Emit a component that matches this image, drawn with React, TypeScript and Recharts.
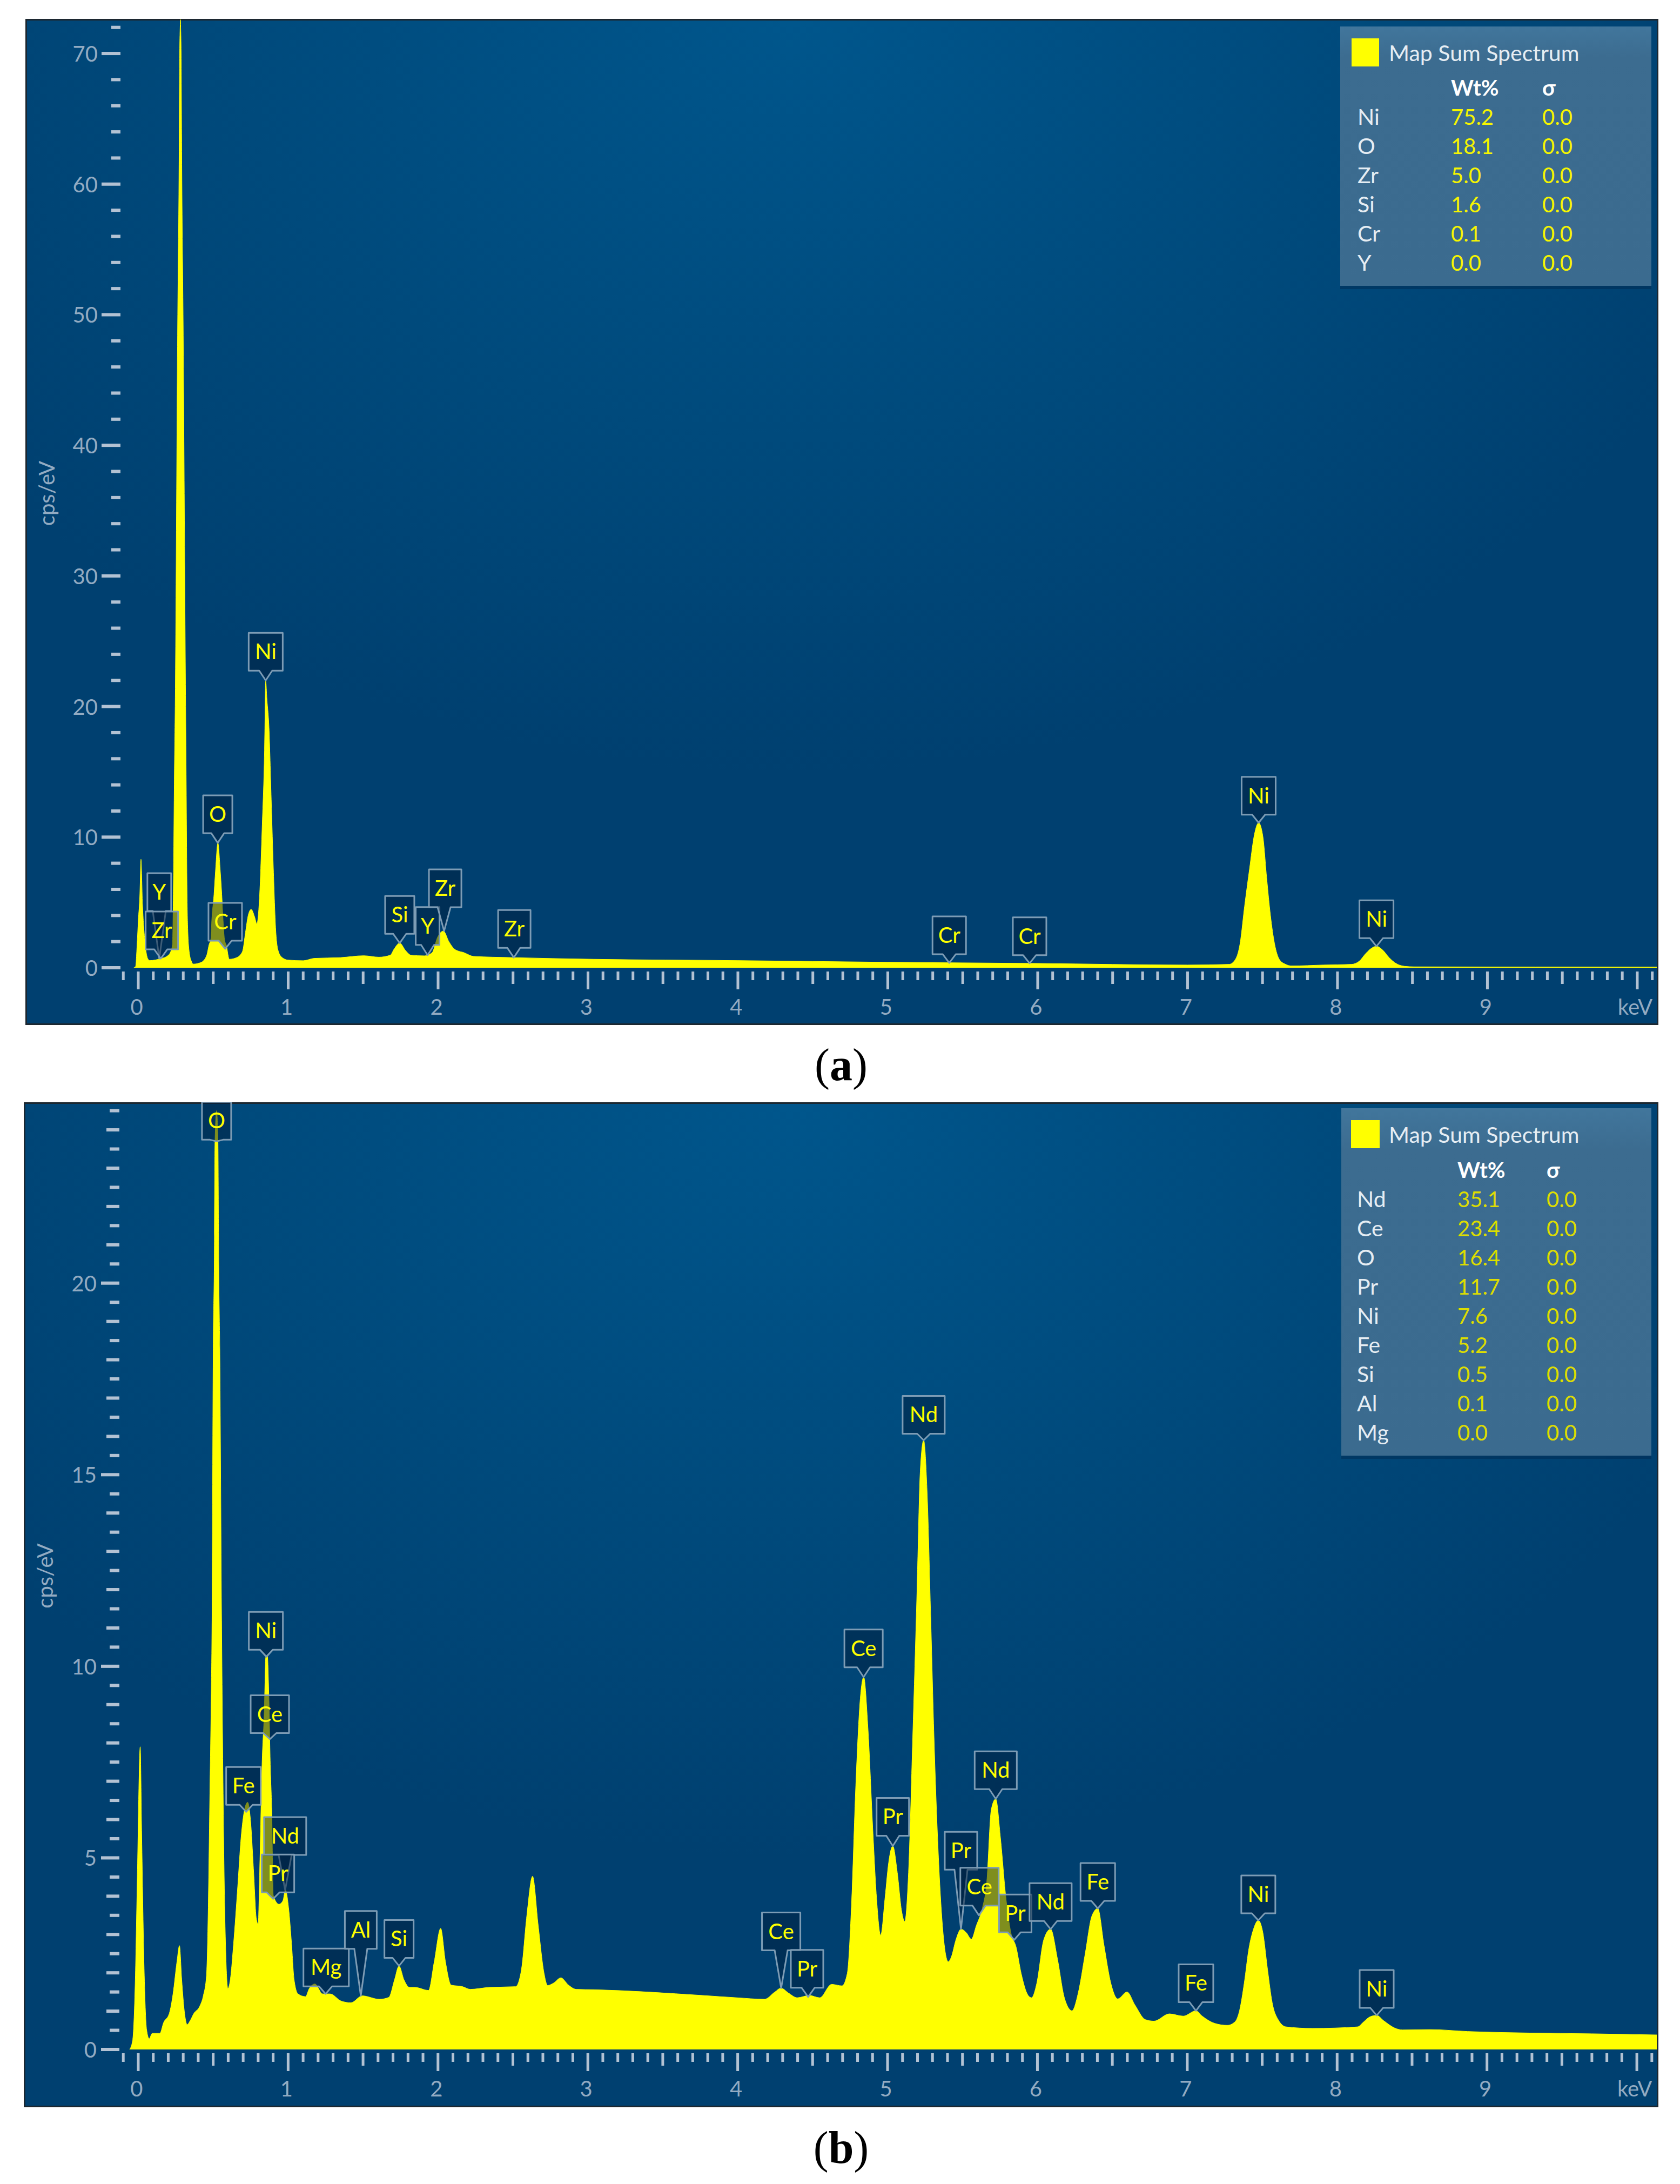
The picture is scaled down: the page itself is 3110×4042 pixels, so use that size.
import React from "react";
import { AreaChart, Area, XAxis, YAxis, ReferenceDot } from "recharts";

// spectrum (a)
const kevA = [-0.03,-0.018,-0.008,0,0.01,0.018,0.028,0.043,0.063,0.076,0.15,0.19,0.215,0.228,0.235,0.24,0.246,0.263,0.271,0.276,0.279,0.281,0.283,0.286,0.291,0.299,0.316,0.32,0.324,0.33,0.34,0.354,0.367,0.417,0.455,0.473,0.484,0.49,0.505,0.515,0.531,0.547,0.557,0.566,0.575,0.59,0.6,0.607,0.657,0.695,0.715,0.733,0.753,0.776,0.791,0.809,0.827,0.842,0.85,0.858,0.872,0.887,0.902,0.918,0.935,0.96,0.998,1.1,1.175,1.35,1.504,1.605,1.681,1.706,1.744,1.782,1.82,1.909,1.96,1.997,2.035,2.073,2.11,2.174,2.237,2.49,3.04,4,5,6,7,7.277,7.319,7.35,7.38,7.413,7.444,7.474,7.503,7.528,7.553,7.58,7.612,7.654,7.695,7.905,8.093,8.145,8.187,8.218,8.26,8.302,8.344,8.386,8.448,8.511,10.13];
const cpsA = [0,0.1,1.8,3.6,5.5,8.3,4.9,2.2,0.7,0.55,0.7,0.87,1.2,1.8,7.3,14,20,50,60,70,72,72.6,72,70,60,50,20,14,7.3,3,1.2,0.5,0.28,0.4,0.9,1.8,2.2,3.6,5.6,7.4,9.56,7.4,5.6,3.6,2.2,1.6,0.9,0.65,0.78,1.24,2.7,4,4.47,3.9,3.36,5.5,11,16.6,22,20.6,18.4,12.9,7.3,2.7,1.24,0.78,0.59,0.54,0.72,0.78,0.92,0.81,0.96,1.42,1.89,1.33,0.96,0.91,1.15,2.35,2.81,1.98,1.42,1.15,0.87,0.78,0.65,0.55,0.42,0.33,0.21,0.26,0.64,1.85,4.7,7.55,10.1,11.1,10,6.84,4,1.85,0.64,0.26,0.14,0.21,0.26,0.5,1.07,1.42,1.64,1.35,0.78,0.36,0.11,0.07,0.05];

// spectrum (b)
const kevB = [-0.058,-0.038,-0.02,-0.008,0.013,0.023,0.038,0.056,0.073,0.093,0.144,0.169,0.207,0.232,0.258,0.275,0.29,0.308,0.326,0.346,0.371,0.409,0.434,0.455,0.467,0.477,0.487,0.492,0.5,0.507,0.512,0.5225,0.532,0.537,0.544,0.556,0.56,0.573,0.586,0.598,0.614,0.636,0.662,0.687,0.712,0.73,0.75,0.77,0.788,0.8,0.81,0.826,0.841,0.851,0.861,0.871,0.881,0.891,0.901,0.939,0.965,0.982,1.003,1.023,1.04,1.066,1.116,1.141,1.179,1.23,1.28,1.356,1.419,1.495,1.609,1.672,1.71,1.74,1.773,1.81,1.848,1.937,1.975,2.018,2.05,2.088,2.164,2.215,2.341,2.518,2.556,2.593,2.631,2.669,2.707,2.732,2.77,2.82,2.871,2.922,3.043,3.765,3.995,4.179,4.248,4.289,4.34,4.397,4.478,4.547,4.627,4.696,4.731,4.759,4.788,4.818,4.841,4.869,4.903,4.926,4.954,4.984,5.007,5.035,5.065,5.094,5.115,5.14,5.168,5.196,5.218,5.241,5.265,5.288,5.31,5.34,5.375,5.405,5.426,5.456,5.49,5.525,5.559,5.593,5.632,5.662,5.692,5.722,5.754,5.789,5.823,5.858,5.892,5.938,5.961,5.996,6.042,6.088,6.134,6.18,6.231,6.272,6.318,6.364,6.403,6.444,6.49,6.536,6.598,6.651,6.72,6.778,6.881,6.973,7.058,7.1,7.184,7.267,7.318,7.349,7.38,7.411,7.442,7.474,7.505,7.536,7.567,7.608,7.66,7.836,8.136,8.177,8.218,8.264,8.311,8.384,8.436,8.622,8.87,9.284,9.698,10.133];
const cpsB = [0,0.23,1.82,4.16,7.9,5.57,2.29,0.51,0.28,0.42,0.42,0.7,0.94,1.45,2.29,2.71,1.82,0.98,0.65,0.75,0.94,1.12,1.4,1.92,3.7,6.5,9.3,11.2,18.3,20.5,23.7,24.5,23.7,20.5,18.3,11.2,9.3,4.63,2.29,1.59,1.82,2.76,4.16,5.57,6.31,6.45,5.94,4.63,3.41,3.27,4.63,7.44,8.84,10.24,10.3,9.3,7.44,6.22,4.02,3.79,3.88,4.16,3.7,2.76,1.82,1.45,1.38,1.59,1.71,1.45,1.45,1.26,1.22,1.4,1.31,1.36,1.82,2.18,1.82,1.62,1.62,1.54,2.29,3.16,2.29,1.68,1.64,1.57,1.62,1.64,2.06,3.5,4.52,3.23,2.01,1.67,1.73,1.87,1.68,1.57,1.56,1.41,1.35,1.31,1.5,1.6,1.47,1.35,1.41,1.35,1.7,1.66,1.98,3.74,6.89,9.16,9.72,8.4,5.63,3.99,2.98,3.99,4.87,5.31,4.62,3.61,3.34,4.62,8.15,11.9,15.08,15.9,14.45,11.3,8.15,5,2.86,2.29,2.42,2.86,3.14,3.05,2.88,3.24,3.68,4.37,6.26,6.54,5.5,3.99,3.05,2.67,1.98,1.41,1.35,1.73,2.86,3.14,2.36,1.35,1.01,1.47,2.48,3.49,3.68,2.73,1.73,1.32,1.5,1.16,0.78,0.74,0.93,0.87,1.01,0.87,0.68,0.63,0.72,1.02,1.73,2.63,3.14,3.37,3.04,2.08,1.22,0.77,0.59,0.55,0.59,0.72,0.85,0.89,0.75,0.56,0.51,0.52,0.47,0.43,0.41,0.38];

// tick values and the labels shown on them
const xTicks = [-0.1,0,0.1,0.2,0.3,0.4,0.5,0.6,0.7,0.8,0.9,1,1.1,1.2,1.3,1.4,1.5,1.6,1.7,1.8,1.9,2,2.1,2.2,2.3,2.4,2.5,2.6,2.7,2.8,2.9,3,3.1,3.2,3.3,3.4,3.5,3.6,3.7,3.8,3.9,4,4.1,4.2,4.3,4.4,4.5,4.6,4.7,4.8,4.9,5,5.1,5.2,5.3,5.4,5.5,5.6,5.7,5.8,5.9,6,6.1,6.2,6.3,6.4,6.5,6.6,6.7,6.8,6.9,7,7.1,7.2,7.3,7.4,7.5,7.6,7.7,7.8,7.9,8,8.1,8.2,8.3,8.4,8.5,8.6,8.7,8.8,8.9,9,9.1,9.2,9.3,9.4,9.5,9.6,9.7,9.8,9.9,10,10.1];
const xLabels = ["0","1","2","3","4","5","6","7","8","9","keV"];
const yTicksA = [0,2,4,6,8,10,12,14,16,18,20,22,24,26,28,30,32,34,36,38,40,42,44,46,48,50,52,54,56,58,60,62,64,66,68,70,72];
const yTicksB = [0,0.5,1,1.5,2,2.5,3,3.5,4,4.5,5,5.5,6,6.5,7,7.5,8,8.5,9,9.5,10,10.5,11,11.5,12,12.5,13,13.5,14,14.5,15,15.5,16,16.5,17,17.5,18,18.5,19,19.5,20,20.5,21,21.5,22,22.5,23,23.5,24,24.5];

// peak labels: element, where the pointer lands
const peaksA = ["Y","Zr","O","Cr","Ni","Si","Y","Zr","Zr","Cr","Cr","Ni","Ni"];
const peakKevA = [0.14,0.15,0.53,0.58,0.85,1.744,1.93,2.04,2.505,5.41,5.946,7.474,8.26];
const peakCpsA = [0.7,0.7,9.56,1.45,22,1.89,0.96,2.81,0.78,0.37,0.34,11.1,1.64];
const peaksB = ["O","Ni","Fe","Ce","Nd","Pr","Mg","Al","Si","Ce","Pr","Ce","Pr","Nd","Pr","Ce","Nd","Pr","Nd","Fe","Fe","Ni","Ni"];
const peakKevB = [0.5225,0.855,0.72,0.878,0.98,0.9,1.25,1.485,1.74,4.29,4.47,4.84,5.035,5.241,5.49,5.61,5.722,5.845,6.088,6.403,7.058,7.474,8.264];
const peakCpsB = [23.7,10.25,6.2,8.1,4.16,3.93,1.45,1.4,2.18,1.6,1.37,9.72,5.31,15.9,3.14,3.5,6.54,2.86,3.14,3.68,1.01,3.37,0.89];

// legend tables
const elementsA = ["Ni","O","Zr","Si","Cr","Y"];
const wtA = ["75.2","18.1","5.0","1.6","0.1","0.0"];
const elementsB = ["Nd","Ce","O","Pr","Ni","Fe","Si","Al","Mg"];
const wtB = ["35.1","23.4","16.4","11.7","7.6","5.2","0.5","0.1","0.0"];

// callout layout, same order as the peak lists
const tipA = [88,17,18,15,18,17,19,44,18,16,15,15,15];
const shiftA = [0,2,0,0,0,0,0,2,1,0,0,0,0];
const tipB = [3,13,13,11,65,12,14,87,15,70,17,18,19,12,110,18,18,14,15,14,16,13,14];
const shiftB = [0,-1,-5,0,0,9,1,0,0,0,-2,0,0,0,0,1,0,2,0,0,0,0,0];
const boxWidth: any = { Y: 44, Zr: 60, O: 54, Cr: 62, Ni: 63, Si: 54, Fe: 64, Ce: 71, Nd: 78, Pr: 60, Mg: 84, Al: 59 };

const FONT = "Lato";
const LABEL = "#93abc2";
const TICK = "#b3c2d3";
const YEL = "#ffff00";

const toRows = (kev: number[], cps: number[]) => kev.map((k, i) => ({ kev: k, cps: cps[i] }));

function XTick(props: any) {
  const { x, y, payload } = props;
  const tenth = Math.round(payload.value * 10);
  const major = tenth % 10 === 0;
  const half = tenth % 5 === 0;
  const len = major ? 33 : half ? 23 : 16;
  return (
    <g>
      <rect x={x - 2.5} y={y + 7} width={5} height={len} fill={TICK} />
      {major && tenth >= 0 && (
        <text x={tenth === 100 ? x - 4 : x - 3} y={y + 87} textAnchor="middle" fill={LABEL} fontSize={40} fontFamily={FONT}>
          {xLabels[tenth / 10]}
        </text>
      )}
    </g>
  );
}

function YTick(props: any) {
  const { x, y, payload, lenOf, step } = props;
  const v = payload.value;
  const len = lenOf(v);
  return (
    <g>
      <rect x={x - len} y={y - 3} width={len} height={6} fill={TICK} />
      {v % step === 0 && (
        <text x={x - 42} y={y + 15} textAnchor="end" fill={LABEL} fontSize={40} fontFamily={FONT}>
          {v}
        </text>
      )}
    </g>
  );
}

function Callout(props: any) {
  const { cx, cy, name, tip, shift } = props;
  const w = boxWidth[name];
  const h = 70;
  const bottom = cy - tip;
  const top = bottom - h;
  const left = cx + shift - w / 2;
  const right = cx + shift + w / 2;
  const d = `M${left} ${top}H${right}V${bottom}H${cx + 12}L${cx} ${cy}L${cx - 12} ${bottom}H${left}Z`;
  return (
    <g>
      <path d={d} fill="rgba(0,30,60,0.5)" stroke="#7d9cb5" strokeWidth={3} strokeLinejoin="round" />
      <text x={cx + shift} y={top + 49} textAnchor="middle" fill={YEL} fontSize={40} fontFamily={FONT}>
        {name}
      </text>
    </g>
  );
}

function Panel(props: any) {
  const { box, rows, xDomain, yDomain, yTicks, yAxisWidth, xAxisHeight, lenOf, step, names, kevs, cpss, tips, shifts } = props;
  return (
    <div
      style={{
        position: "absolute",
        left: box.left,
        top: box.top,
        width: box.width,
        height: box.height,
        background: "radial-gradient(ellipse 62% 75% at 47% 0%, #00568c 0%, #004a7c 55%, #004070 100%)",
        boxShadow: "inset 0 0 0 3px #1c2730",
      }}
    >
      <AreaChart width={box.width} height={box.height} data={rows} margin={{ top: 0, right: 3, bottom: 0, left: 0 }}>
        <XAxis
          type="number"
          dataKey="kev"
          domain={xDomain}
          ticks={xTicks}
          interval={0}
          height={xAxisHeight}
          tickSize={0}
          tickMargin={0}
          axisLine={false}
          tickLine={false}
          tick={(p: any) => <XTick {...p} />}
          allowDataOverflow
        />
        <YAxis
          type="number"
          domain={yDomain}
          ticks={yTicks}
          interval={0}
          width={yAxisWidth}
          tickSize={0}
          tickMargin={0}
          axisLine={false}
          tickLine={false}
          tick={(p: any) => <YTick {...p} lenOf={lenOf} step={step} />}
          label={{ value: "cps/eV", angle: -90, position: "insideLeft", offset: 40, fill: LABEL, fontSize: 40, fontFamily: FONT, style: { textAnchor: "middle" } }}
          allowDataOverflow
        />
        <Area type="monotoneX" dataKey="cps" stroke={YEL} strokeWidth={1} fill={YEL} fillOpacity={1} dot={false} activeDot={false} isAnimationActive={false} />
        {names.map((n: string, i: number) => (
          <ReferenceDot
            key={i}
            x={kevs[i]}
            y={cpss[i]}
            r={0}
            ifOverflow="visible"
            shape={(p: any) => <Callout {...p} name={n} tip={tips[i]} shift={shifts[i]} />}
          />
        ))}
      </AreaChart>
    </div>
  );
}

function LegendBox(props: any) {
  const { left, top, width, height, swatch, titleY, titleX, headY, wtX, sigmaX, firstRowY, elements, wt, rowX, valueColor } = props;
  return (
    <svg style={{ position: "absolute", left: 0, top: 0 }} width={3110} height={4042} pointerEvents="none">
      <defs>
        <linearGradient id={`lg${top}`} x1="0" y1="0" x2="0" y2="1">
          <stop offset="0" stopColor="#41769c" />
          <stop offset="0.12" stopColor="#3c6c90" />
          <stop offset="1" stopColor="#3b6b8f" />
        </linearGradient>
      </defs>
      <rect x={left} y={top + 6} width={width} height={height} fill="#00284d" opacity={0.45} />
      <rect x={left} y={top} width={width} height={height} fill={`url(#lg${top})`} />
      <rect x={swatch.x} y={swatch.y} width={swatch.w} height={swatch.h} fill={YEL} />
      <text x={titleX} y={titleY} fill="#e6edf3" fontSize={41} fontFamily={FONT}>Map Sum Spectrum</text>
      <text x={wtX} y={headY} fill="#ffffff" fontSize={40} fontWeight="bold" fontFamily={FONT}>Wt%</text>
      <text x={sigmaX} y={headY} fill="#ffffff" fontSize={40} fontWeight="bold" fontFamily={FONT}>σ</text>
      {elements.map((el: string, i: number) => (
        <g key={el}>
          <text x={rowX} y={firstRowY + i * 54} fill="#e6edf3" fontSize={41} fontFamily={FONT}>{el}</text>
          <text x={wtX} y={firstRowY + i * 54} fill={valueColor} fontSize={40} fontFamily={FONT}>{wt[i]}</text>
          <text x={sigmaX} y={firstRowY + i * 54} fill={valueColor} fontSize={40} fontFamily={FONT}>0.0</text>
        </g>
      ))}
    </svg>
  );
}

function Caption(props: any) {
  return (
    <svg style={{ position: "absolute", left: 0, top: 0 }} width={3110} height={4042} pointerEvents="none">
      <text x={props.x} y={props.y} textAnchor="middle" fontSize={84} fontFamily="Liberation Serif" fill="#000">
        (<tspan fontWeight="bold">{props.letter}</tspan>)
      </text>
    </svg>
  );
}

export default function App() {
  return (
    <div style={{ position: "absolute", left: 0, top: 0, width: 3110, height: 4042, background: "#fff", overflow: "hidden" }}>
      <Panel
        box={{ left: 47, top: 35, width: 3023, height: 1862 }}
        rows={toRows(kevA, cpsA)}
        xDomain={[-0.1189, 10.13]}
        yDomain={[0, 72.65]}
        yTicks={yTicksA}
        yAxisWidth={176}
        xAxisHeight={106}
        lenOf={(v: number) => (v % 10 === 0 ? 35 : 17)}
        step={10}
        names={peaksA}
        kevs={peakKevA}
        cpss={peakCpsA}
        tips={tipA}
        shifts={shiftA}
      />
      <Panel
        box={{ left: 44, top: 2040, width: 3026, height: 1860 }}
        rows={toRows(kevB, cpsB)}
        xDomain={[-0.126, 10.133]}
        yDomain={[0, 24.72]}
        yTicks={yTicksB}
        yAxisWidth={177}
        xAxisHeight={107}
        lenOf={(v: number) => (v % 5 === 0 ? 34 : Number.isInteger(v) ? 24 : 18)}
        step={5}
        names={peaksB}
        kevs={peakKevB}
        cpss={peakCpsB}
        tips={tipB}
        shifts={shiftB}
      />
      <LegendBox
        left={2481} top={49} width={576} height={480}
        swatch={{ x: 2502, y: 71, w: 51, h: 52 }}
        titleX={2571} titleY={113} headY={177} wtX={2686} sigmaX={2855}
        firstRowY={231} elements={elementsA} wt={wtA} rowX={2513} valueColor="#f6f600"
      />
      <LegendBox
        left={2483} top={2051} width={574} height={643}
        swatch={{ x: 2501, y: 2073, w: 53, h: 52 }}
        titleX={2571} titleY={2115} headY={2180} wtX={2698} sigmaX={2863}
        firstRowY={2234} elements={elementsB} wt={wtB} rowX={2512} valueColor="#dede00"
      />
      <Caption x={1557} y={1999} letter="a" />
      <Caption x={1557} y={4003} letter="b" />
    </div>
  );
}
